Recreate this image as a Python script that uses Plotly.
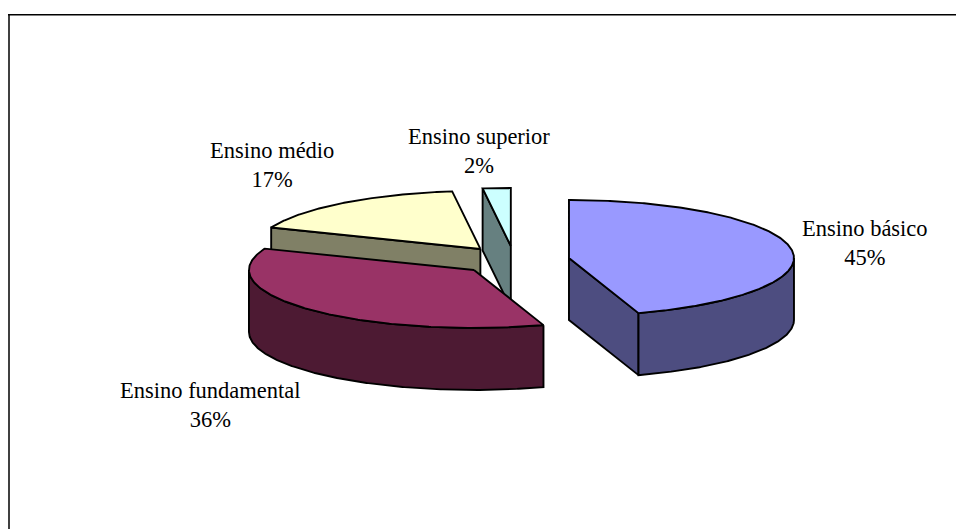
import numpy as np
import plotly.graph_objects as go

# Education level shares, clockwise from twelve o'clock
categories = ["Ensino básico", "Ensino fundamental", "Ensino médio", "Ensino superior"]
shares = [45, 36, 17, 2]
top_colors = ["#9999FF", "#993366", "#FFFFCC", "#CCFFFF"]
side_colors = ["#4D4D80", "#4D1A33", "#808066", "#668080"]

# Pixel-space projection of the tilted pie
CX, CY = 514.3, 260.2
RX, RY = 225.0, 58.0
DEPTH = 62.0
EXPLODE = 0.246

LABEL_POS = [(865, 243), (210, 405), (272, 165), (479, 151)]
FONT = dict(family="Liberation Serif, Times New Roman, serif", size=22.5, color="black")


def rim(cx, cy, a0, a1, drop=0.0):
    """Points along the ellipse between two clockwise angles in degrees."""
    n = max(2, int(abs(a1 - a0) * 2) + 1)
    t = np.radians(np.linspace(a0, a1, n))
    return cx + RX * np.sin(t), cy - RY * np.cos(t) + drop


def polygon(xs, ys, color):
    return go.Scatter(
        x=list(xs), y=list(ys), mode="lines", fill="toself", fillcolor=color,
        line=dict(color="black", width=1.9), hoverinfo="skip", showlegend=False,
    )


def radial_wall(cx, cy, a, color):
    ex, ey = rim(cx, cy, a, a)
    return polygon(
        [cx, ex[0], ex[0], cx, cx],
        [cy, ey[0], ey[0] + DEPTH, cy + DEPTH, cy],
        color,
    )


# Slice spans from the shares
total = sum(shares)
edges = np.concatenate([[0.0], np.cumsum(shares) / total * 360.0])
slices = []
for i in range(len(shares)):
    a0, a1 = edges[i], edges[i + 1]
    mid = np.radians((a0 + a1) / 2)
    cx = CX + EXPLODE * RX * np.sin(mid)
    cy = CY - EXPLODE * RY * np.cos(mid)
    slices.append((i, a0, a1, cx, cy))

fig = go.Figure()

# Back slices first so the nearer ones overlap them
for i, a0, a1, cx, cy in [slices[3], slices[2], slices[1], slices[0]]:
    # Cut faces that turn towards the viewer
    if 180 < a0 < 360:
        fig.add_trace(radial_wall(cx, cy, a0, side_colors[i]))
    if 0 < a1 < 180:
        fig.add_trace(radial_wall(cx, cy, a1, side_colors[i]))
    # Curved outer wall on the front half of the ellipse
    lo, hi = max(a0, 90.0), min(a1, 270.0)
    if lo < hi:
        ux, uy = rim(cx, cy, lo, hi)
        lx, ly = rim(cx, cy, hi, lo, DEPTH)
        fig.add_trace(polygon(
            np.r_[ux, lx, ux[0]], np.r_[uy, ly, uy[0]], side_colors[i],
        ))
    # Top face
    tx, ty = rim(cx, cy, a0, a1)
    fig.add_trace(polygon(np.r_[cx, tx, cx], np.r_[cy, ty, cy], top_colors[i]))

# Category and percentage labels
for name, share, (lx, ly) in zip(categories, shares, LABEL_POS):
    fig.add_annotation(
        x=lx, y=ly, xref="x", yref="y", showarrow=False,
        text=f"{name}<br>{share}%", font=FONT, align="center",
    )

# Chart-area border along the top and left; the frame runs off the page elsewhere
fig.add_shape(type="line", x0=8, y0=14.75, x1=956, y1=14.75, line=dict(color="black", width=1.5))
fig.add_shape(type="line", x0=9, y0=14, x1=9, y1=529, line=dict(color="black", width=1.5))

fig.update_xaxes(visible=False, range=[0, 956], fixedrange=True)
fig.update_yaxes(visible=False, range=[529, 0], fixedrange=True)
fig.update_layout(
    width=956, height=529, margin=dict(l=0, r=0, t=0, b=0),
    paper_bgcolor="white", plot_bgcolor="white", showlegend=False,
)
fig.write_html("out.html", config=dict(displayModeBar=False))
